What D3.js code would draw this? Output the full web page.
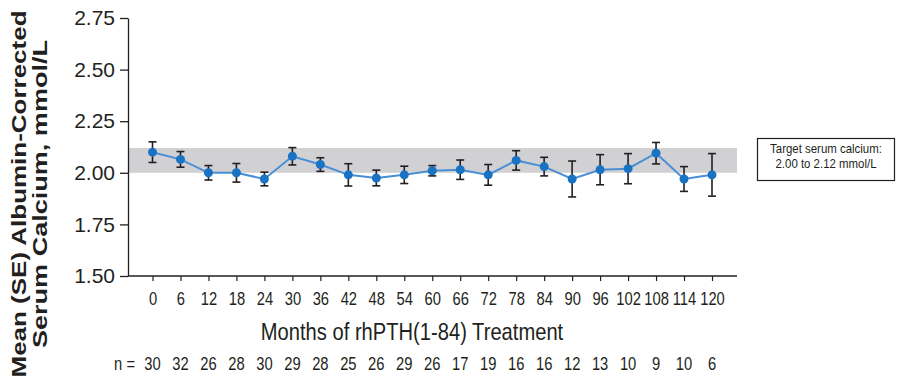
<!DOCTYPE html>
<html>
<head>
<meta charset="utf-8">
<script src="https://cdn.jsdelivr.net/npm/d3@7"></script>
<style>
  body { margin: 0; background: #fff; }
  text { fill: #231f20; }
</style>
</head>
<body>
<script>
// months on treatment, mean albumin-corrected serum calcium and its SE
var months = [0, 6, 12, 18, 24, 30, 36, 42, 48, 54, 60, 66, 72, 78, 84, 90, 96, 102, 108, 114, 120];
var means = [2.10, 2.065, 2.00, 2.00, 1.97, 2.08, 2.04, 1.99, 1.975, 1.99, 2.01, 2.015, 1.99, 2.06, 2.03, 1.97, 2.015, 2.02, 2.095, 1.97, 1.99];
var se = [0.05, 0.038, 0.035, 0.045, 0.033, 0.042, 0.033, 0.054, 0.038, 0.042, 0.025, 0.047, 0.05, 0.047, 0.045, 0.087, 0.073, 0.073, 0.052, 0.06, 0.103];
var nCounts = [30, 32, 26, 28, 30, 29, 28, 25, 26, 29, 26, 17, 19, 16, 16, 12, 13, 10, 9, 10, 6];
var yTicks = [1.50, 1.75, 2.00, 2.25, 2.50, 2.75];
var targetRange = [2.00, 2.12];

var svg = d3.select('body')
    .append('svg')
    .attr('width', 910)
    .attr('height', 382);

var x = d3.scaleLinear().domain([0, 120]).range([152.5, 712]);
var y = d3.scaleLinear().domain([1.5, 2.75]).range([276, 18]);

var left = 128, right = 737;
var sans = '"Liberation Sans", Arial, Helvetica, sans-serif';
var squeeze = 0.82; // the original uses a condensed face

// target band
svg.append('rect')
    .attr('x', left)
    .attr('y', y(targetRange[1]))
    .attr('width', right - left)
    .attr('height', y(targetRange[0]) - y(targetRange[1]))
    .attr('fill', '#d1d1d3');

// y axis
var yAxis = svg.append('g')
    .attr('transform', 'translate(' + left + ',0)')
    .call(d3.axisLeft(y).tickValues(yTicks).tickFormat(d3.format('.2f')).tickSize(8).tickSizeOuter(0).tickPadding(5));
yAxis.select('.domain').attr('stroke', '#231f20').attr('stroke-width', 1.3);
yAxis.selectAll('.tick line').attr('stroke', '#231f20').attr('stroke-width', 1.3);
yAxis.selectAll('.tick text')
    .attr('font-family', sans)
    .attr('font-size', 21)
    .attr('fill', '#231f20');

// x axis
var xAxis = svg.append('g')
    .attr('transform', 'translate(0,' + y(1.5) + ')')
    .call(d3.axisBottom(x).tickValues(months).tickSize(5).tickSizeOuter(0).tickPadding(11));
xAxis.select('.domain').remove();
xAxis.selectAll('.tick line').attr('stroke', '#231f20').attr('stroke-width', 1.2);
xAxis.selectAll('.tick text')
    .attr('font-family', sans)
    .attr('font-size', 18)
    .attr('fill', '#231f20')
    .attr('transform', 'scale(' + squeeze + ',1)');
svg.append('line')
    .attr('x1', left).attr('x2', right)
    .attr('y1', y(1.5)).attr('y2', y(1.5))
    .attr('stroke', '#231f20')
    .attr('stroke-width', 1.3);

// axis titles
svg.append('text')
    .attr('transform', 'translate(412,340) scale(0.84,1)')
    .attr('text-anchor', 'middle')
    .attr('font-family', sans)
    .attr('font-size', 24)
    .text('Months of rhPTH(1-84) Treatment');

var yTitle = svg.append('text')
    .attr('transform', 'translate(0,194) rotate(-90)')
    .attr('text-anchor', 'middle')
    .attr('font-family', sans)
    .attr('font-weight', 'bold')
    .attr('font-size', 20);
yTitle.append('tspan').attr('x', 0).attr('y', 26)
    .attr('textLength', 367).attr('lengthAdjust', 'spacingAndGlyphs')
    .text('Mean (SE) Albumin-Corrected');
yTitle.append('tspan').attr('x', 0).attr('y', 47)
    .attr('textLength', 308).attr('lengthAdjust', 'spacingAndGlyphs')
    .text('Serum Calcium, mmol/L');

// n row
svg.append('text')
    .attr('transform', 'translate(135,370) scale(' + squeeze + ',1)')
    .attr('text-anchor', 'end')
    .attr('font-family', sans)
    .attr('font-size', 18)
    .text('n =');
svg.selectAll('.ncount')
    .data(nCounts)
    .enter()
    .append('text')
    .attr('class', 'ncount')
    .attr('transform', function(d, i){ return 'translate(' + x(months[i]) + ',370) scale(' + squeeze + ',1)'; })
    .attr('text-anchor', 'middle')
    .attr('font-family', sans)
    .attr('font-size', 18)
    .text(function(d){ return d; });

// error bars
var bars = svg.selectAll('.err')
    .data(means)
    .enter()
    .append('g')
    .attr('class', 'err')
    .attr('stroke', '#231f20')
    .attr('stroke-width', 1.6);
bars.append('line')
    .attr('x1', function(d, i){ return x(months[i]); })
    .attr('x2', function(d, i){ return x(months[i]); })
    .attr('y1', function(d, i){ return y(d + se[i]); })
    .attr('y2', function(d, i){ return y(d - se[i]); });
bars.append('line')
    .attr('x1', function(d, i){ return x(months[i]) - 4; })
    .attr('x2', function(d, i){ return x(months[i]) + 4; })
    .attr('y1', function(d, i){ return y(d + se[i]); })
    .attr('y2', function(d, i){ return y(d + se[i]); });
bars.append('line')
    .attr('x1', function(d, i){ return x(months[i]) - 4; })
    .attr('x2', function(d, i){ return x(months[i]) + 4; })
    .attr('y1', function(d, i){ return y(d - se[i]); })
    .attr('y2', function(d, i){ return y(d - se[i]); });

// mean line
var line = d3.line()
    .x(function(d, i){ return x(months[i]); })
    .y(function(d){ return y(d); });
svg.append('path')
    .datum(means)
    .attr('d', line)
    .attr('fill', 'none')
    .attr('stroke', '#4a8fd6')
    .attr('stroke-width', 2);

svg.selectAll('.pt')
    .data(means)
    .enter()
    .append('circle')
    .attr('class', 'pt')
    .attr('cx', function(d, i){ return x(months[i]); })
    .attr('cy', function(d){ return y(d); })
    .attr('r', 4.5)
    .attr('fill', '#1a72c2');

// legend box
svg.append('rect')
    .attr('x', 757.5)
    .attr('y', 138.5)
    .attr('width', 137)
    .attr('height', 42)
    .attr('fill', '#fff')
    .attr('stroke', '#231f20')
    .attr('stroke-width', 1.2);
svg.append('text')
    .attr('transform', 'translate(826,153) scale(0.88,1)')
    .attr('text-anchor', 'middle')
    .attr('font-family', sans)
    .attr('font-size', 13)
    .text('Target serum calcium:');
svg.append('text')
    .attr('transform', 'translate(826,168) scale(0.88,1)')
    .attr('text-anchor', 'middle')
    .attr('font-family', sans)
    .attr('font-size', 13)
    .text('2.00 to 2.12 mmol/L');
</script>
</body>
</html>
